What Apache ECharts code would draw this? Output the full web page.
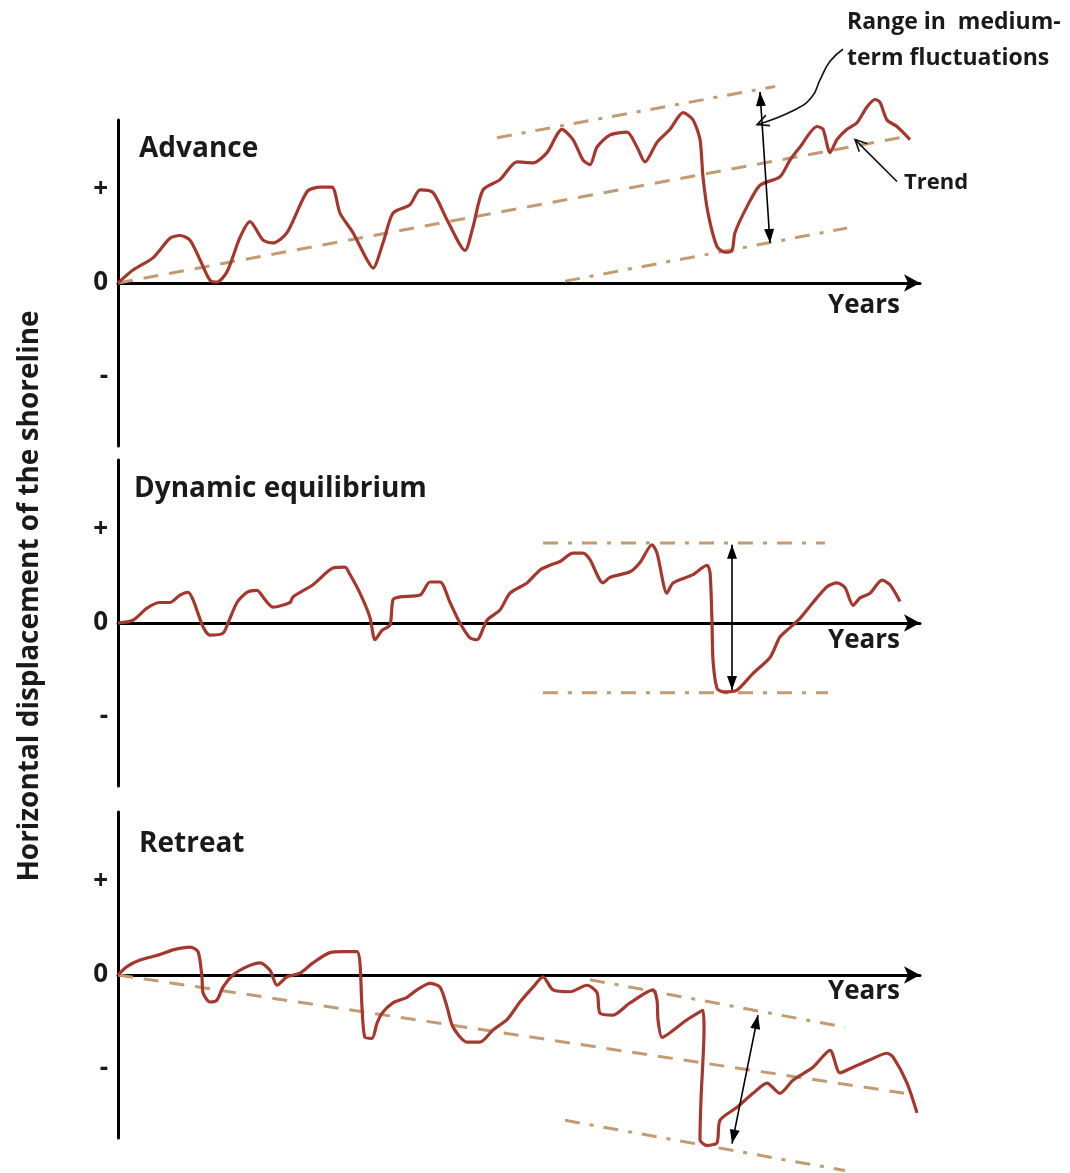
<!DOCTYPE html>
<html><head><meta charset="utf-8">
<script src="https://cdn.jsdelivr.net/npm/echarts@6/dist/echarts.min.js"></script>
<style>html,body{margin:0;padding:0;background:#fff}#c{width:1070px;height:1173px}</style>
</head><body><div id="c"></div>
<script>
// ---------- data (years 0..100, displacement in arbitrary units) ----------
const panelTitles = ['Advance', 'Dynamic equilibrium', 'Retreat'];
const tickLabels = { '1': '+', '0': '0', '-1': '-' };

const advanceX = [0,1.87,4.36,6.48,7.73,8.98,10.22,11.47,12.34,13.59,15.21,16.46,18.08,19.33,21.07,23.57,25.19,26.68,27.68,29.30,31.05,31.80,33.04,34.29,36.41,37.66,39.28,41.02,43.27,44.26,45.51,47.63,49.75,51.75,53.49,55.36,56.73,57.98,58.85,59.73,61.35,63.47,64.71,65.71,67.21,68.83,70.45,71.70,72.57,72.94,73.57,74.69,75.69,76.56,76.93,78.43,80.05,82.54,83.79,85.04,87.16,87.91,88.78,89.65,90.90,92.14,93.39,94.39,95.01,95.89,97.13,98.75];
const advanceY = [0,0.14,0.27,0.48,0.51,0.46,0.25,0.03,0.01,0.12,0.49,0.66,0.46,0.43,0.54,0.98,1.03,1.03,0.75,0.54,0.25,0.16,0.43,0.75,0.84,1.00,0.97,0.68,0.35,0.60,1.00,1.11,1.30,1.29,1.40,1.65,1.54,1.32,1.27,1.46,1.59,1.62,1.46,1.30,1.51,1.65,1.83,1.75,1.54,1.14,0.75,0.39,0.33,0.35,0.54,0.82,1.05,1.14,1.32,1.46,1.68,1.65,1.40,1.54,1.65,1.72,1.89,1.97,1.94,1.75,1.68,1.54];

const equilX = [0,1.87,3.62,5.24,6.48,7.73,8.73,9.35,10.60,11.47,13.09,13.72,14.84,16.08,17.33,18.33,19.33,21.45,21.82,24.31,26.81,28.30,28.93,30.17,31.42,32.04,32.92,33.92,34.29,35.16,37.66,38.90,40.15,41.40,42.64,43.89,44.76,46.01,47.63,48.88,51.00,52.62,53.87,55.11,56.73,57.98,58.85,60.47,61.35,63.84,65.09,66.58,67.21,68.45,69.20,71.70,73.44,73.82,74.06,74.19,74.69,75.44,77.18,79.18,81.30,82.54,83.79,85.04,86.66,88.40,89.65,90.65,91.65,92.52,93.77,95.26,96.26,97.51];
const equilY = [0,0.03,0.16,0.22,0.22,0.30,0.33,0.25,-0.04,-0.13,-0.11,0,0.22,0.33,0.35,0.25,0.17,0.22,0.28,0.41,0.59,0.60,0.52,0.32,0.06,-0.18,-0.08,-0.02,0.25,0.28,0.30,0.44,0.44,0.22,0,-0.16,-0.18,0.03,0.14,0.32,0.43,0.57,0.62,0.66,0.75,0.75,0.68,0.43,0.49,0.55,0.65,0.84,0.75,0.32,0.43,0.52,0.62,0.54,0.03,-0.40,-0.70,-0.74,-0.72,-0.54,-0.37,-0.15,-0.05,0.05,0.22,0.39,0.43,0.38,0.19,0.27,0.32,0.46,0.41,0.23];

const retreatX = [0,1.12,2.74,5.24,6.86,8.98,9.98,10.47,10.60,11.47,12.34,13.09,14.34,16.08,17.71,18.95,19.83,21.07,22.69,24.31,26.43,28.05,29.80,30.17,30.42,30.80,31.67,32.29,32.92,34.29,36.03,37.28,38.90,40.15,41.02,41.77,43.52,45.14,46.76,48.50,50.12,51.75,52.99,54.24,56.36,58.48,59.73,60.10,61.72,63.84,66.71,67.21,67.33,67.83,68.83,70.95,72.94,73.07,72.69,72.57,73.44,74.69,75.06,77.18,79.18,80.92,82.54,84.16,86.66,88.78,90.02,91.65,93.77,95.89,96.63,98.38,99.63];
const retreatY = [0,0.09,0.16,0.22,0.27,0.30,0.25,-0.02,-0.19,-0.29,-0.27,-0.13,0,0.09,0.13,0.05,-0.11,-0.02,0.02,0.13,0.24,0.25,0.25,0.13,-0.34,-0.67,-0.68,-0.52,-0.41,-0.30,-0.24,-0.16,-0.09,-0.13,-0.34,-0.56,-0.72,-0.72,-0.59,-0.48,-0.29,-0.13,-0.02,-0.16,-0.18,-0.11,-0.19,-0.41,-0.43,-0.30,-0.16,-0.27,-0.48,-0.67,-0.62,-0.48,-0.38,-0.59,-1.34,-1.77,-1.83,-1.80,-1.56,-1.42,-1.27,-1.16,-1.27,-1.13,-0.99,-0.81,-1.05,-0.99,-0.91,-0.84,-0.88,-1.16,-1.48];

// reference lines [x0, y0, x1, y1]
const advanceTrend = [0, 0, 98.13, 1.57];
const advanceUpper = [47.26, 1.56, 81.92, 2.11];
const advanceLower = [55.74, 0.02, 90.90, 0.59];
const advanceArrow = [80.05, 2.05, 81.30, 0.43];

const equilUpper = [52.99, 0.86, 88.15, 0.86];
const equilLower = [52.99, -0.75, 88.53, -0.75];
const equilArrow = [76.56, 0.84, 76.56, -0.72];

const retreatTrend = [0, 0, 98.13, -1.27];
const retreatUpper = [58.85, -0.05, 90.65, -0.56];
const retreatLower = [55.74, -1.56, 90.65, -2.10];
const retreatArrow = [79.80, -0.43, 76.56, -1.81];

// annotation pointers (panel 1 coordinates)
const rangePointer = [[90.40,2.51],[88.78,2.38],[87.53,2.18],[86.53,2.00],[84.41,1.86],[79.68,1.70]];
const trendPointer = [[97.13,1.09],[91.90,1.54]];

// ---------- chart ----------
const FONT = '"Open Sans", "DejaVu Sans", sans-serif';
const RED = '#a5382e';
const BROWN = '#c29b72';
const DASH = [15, 11];
const DASHDOT = [15, 10, 4, 10];

const zip = (xs, ys) => xs.slice(0, Math.min(xs.length, ys.length)).map((x, i) => [x, ys[i]]);
const seg = s => [[s[0], s[1]], [s[2], s[3]]];

const gridTops = [120, 460, 812];
const yearsPad = [10, 5, 4];

const chart = echarts.init(document.getElementById('c'), null, { renderer: 'canvas' });

const grids = gridTops.map(t => ({ left: 118, width: 802, top: t, height: 326 }));
const xAxes = gridTops.map((t, i) => ({
  type: 'value', gridIndex: i, min: 0, max: 100,
  axisLine: { show: true, onZero: true, lineStyle: { color: '#000', width: 3 },
              symbol: ['none', 'arrow'], symbolSize: [13, 16], symbolOffset: [0, 0] },
  axisTick: { show: false }, axisLabel: { show: false }, splitLine: { show: false },
  name: 'Years', nameLocation: 'end', nameGap: -20,
  nameTextStyle: { fontFamily: FONT, fontSize: 26, fontWeight: 700, color: '#1a1a1a',
                   align: 'right', verticalAlign: 'top', padding: [yearsPad[i], 0, 0, 0] }
}));
const yAxes = gridTops.map((t, i) => ({
  type: 'value', gridIndex: i, min: -1.75, max: 1.75, interval: 0.25,
  axisLine: { show: true, onZero: false, lineStyle: { color: '#000', width: 3 } },
  axisTick: { show: false }, splitLine: { show: false },
  axisLabel: { show: true, margin: 10, fontFamily: FONT, fontSize: 26, fontWeight: 700, color: '#1a1a1a',
               formatter: v => { const k = String(Math.round(v * 100) / 100); return tickLabels[k] !== undefined ? tickLabels[k] : ''; } }
}));

function refLine(i, s, pattern) {
  return { type: 'line', xAxisIndex: i, yAxisIndex: i, data: seg(s), symbol: 'none', silent: true, clip: false, z: 2,
           lineStyle: { color: BROWN, width: 3, type: pattern } };
}
function dataLine(i, xs, ys) {
  return { type: 'line', xAxisIndex: i, yAxisIndex: i, data: zip(xs, ys), symbol: 'none', silent: true, clip: false, z: 3,
           smooth: 0.25, lineStyle: { color: RED, width: 3.2, join: 'round' } };
}

const series = [
  refLine(0, advanceTrend, DASH), refLine(0, advanceUpper, DASHDOT), refLine(0, advanceLower, DASHDOT),
  dataLine(0, advanceX, advanceY),
  refLine(1, equilUpper, DASHDOT), refLine(1, equilLower, DASHDOT),
  dataLine(1, equilX, equilY),
  refLine(2, retreatTrend, DASH), refLine(2, retreatUpper, DASHDOT), refLine(2, retreatLower, DASHDOT),
  dataLine(2, retreatX, retreatY)
];

const titleTops = [135, 475, 830];
const titleLefts = [139, 134, 139];
const titles = panelTitles.map((t, i) => ({
  text: t, left: titleLefts[i], top: titleTops[i], padding: 0,
  textStyle: { fontFamily: FONT, fontSize: 28, fontWeight: 700, color: '#1a1a1a' }
}));

chart.setOption({
  animation: false,
  backgroundColor: '#fff',
  title: titles,
  grid: grids, xAxis: xAxes, yAxis: yAxes, series: series
});

// ---------- annotations, positioned through each panel's scales ----------
const toPx = (g, pt) => chart.convertToPixel({ xAxisIndex: g, yAxisIndex: g }, pt);
function openHead(tip, from, len, ang) {
  const a = Math.atan2(from[1] - tip[1], from[0] - tip[0]);
  return [[tip[0] + len * Math.cos(a + ang), tip[1] + len * Math.sin(a + ang)], tip,
          [tip[0] + len * Math.cos(a - ang), tip[1] + len * Math.sin(a - ang)]];
}
function solidHead(tip, from, len, half) {
  const a = Math.atan2(from[1] - tip[1], from[0] - tip[0]);
  const bx = tip[0] + len * Math.cos(a), by = tip[1] + len * Math.sin(a);
  const nx = -Math.sin(a) * half, ny = Math.cos(a) * half;
  return { type: 'polygon', z: 10, shape: { points: [tip, [bx + nx, by + ny], [bx - nx, by - ny]] }, style: { fill: '#000' } };
}
function dblArrow(g, s) {
  const p0 = toPx(g, [s[0], s[1]]), p1 = toPx(g, [s[2], s[3]]);
  return [
    { type: 'polyline', z: 10, shape: { points: [p0, p1] }, style: { stroke: '#000', lineWidth: 1.6, fill: null } },
    solidHead(p0, p1, 14, 5), solidHead(p1, p0, 14, 5)
  ];
}
const rp = rangePointer.map(p => toPx(0, p));
const tp = trendPointer.map(p => toPx(0, p));
const txt = (s, x, y, size) => ({ type: 'text', left: x, top: y, z: 10,
  style: { text: s, fontFamily: FONT, fontSize: size, fontWeight: 700, fill: '#1a1a1a' } });
const stroke = { stroke: '#111', lineWidth: 1.6, fill: null };

chart.setOption({
  graphic: [
    ...dblArrow(0, advanceArrow), ...dblArrow(1, equilArrow), ...dblArrow(2, retreatArrow),
    { type: 'polyline', z: 10, shape: { points: rp, smooth: 0.5 }, style: stroke },
    { type: 'polyline', z: 10, shape: { points: openHead(rp[rp.length - 1], rp[rp.length - 2], 13, 0.45) }, style: stroke },
    { type: 'polyline', z: 10, shape: { points: tp }, style: stroke },
    { type: 'polyline', z: 10, shape: { points: openHead(tp[1], tp[0], 13, 0.45) }, style: stroke },
    txt('Range in  medium-', 847, 11, 23),
    txt('term fluctuations', 847, 47, 23),
    txt('Trend', 904, 172, 22),
    { type: 'text', z: 10, x: 30, y: 596, rotation: Math.PI / 2,
      style: { text: 'Horizontal displacement of the shoreline', fontFamily: FONT, fontSize: 28, fontWeight: 700,
               fill: '#1a1a1a', align: 'center', verticalAlign: 'middle' } }
  ]
});
</script></body></html>
